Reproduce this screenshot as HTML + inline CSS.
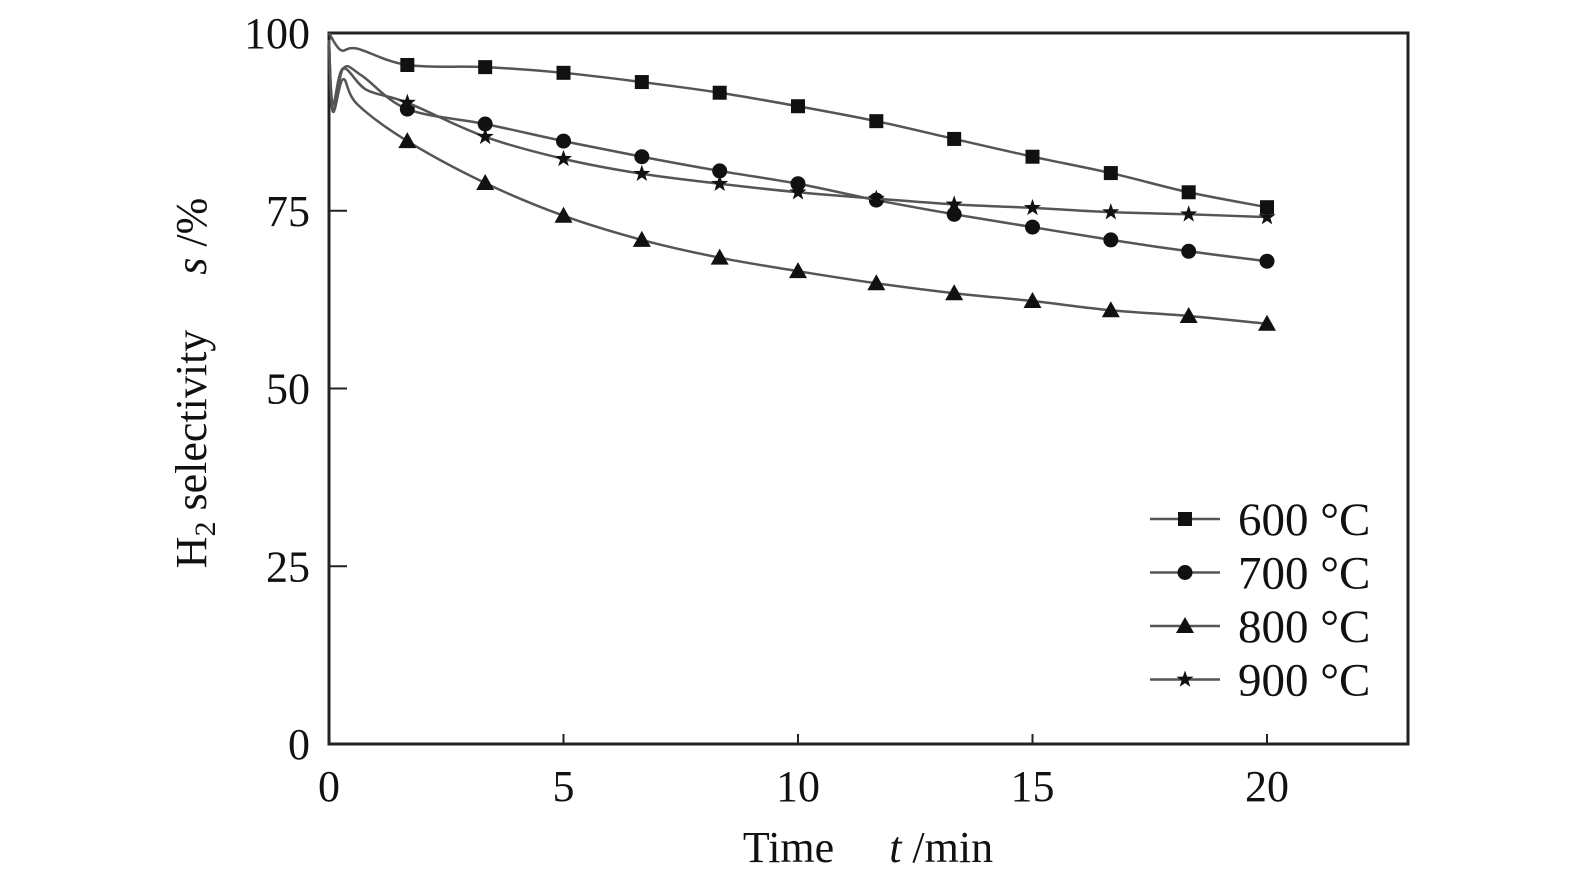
<!DOCTYPE html>
<html><head><meta charset="utf-8"><style>
html,body{margin:0;padding:0;background:#fff;}
svg text{font-family:"Liberation Serif",serif;fill:#111;white-space:pre;}
</style></head><body>
<svg id="chart" width="1575" height="888" viewBox="0 0 1575 888" xmlns="http://www.w3.org/2000/svg" xml:space="preserve">
<rect x="0" y="0" width="1575" height="888" fill="#fff"/>
<g id="axes"></g>
<g id="series"></g>
<g id="legend"></g>
<text transform="translate(206,383) rotate(-90)" text-anchor="middle" font-size="44">H<tspan font-size="30" dy="9">2</tspan><tspan dy="-9"> selectivity     </tspan><tspan font-style="italic">s</tspan> /%</text>
<text x="868" y="862" text-anchor="middle" font-size="44">Time     <tspan font-style="italic">t</tspan> /min</text>
</svg>
<script>
const xTicks=[0,5,10,15,20];
const yTicks=[0,25,50,75,100];
const seriesNames=["600 °C","700 °C","800 °C","900 °C"];
const markerTimes=[1.67,3.33,5,6.67,8.33,10,11.67,13.33,15,16.67,18.33,20];
const s600=[95.5,95.2,94.4,93.1,91.6,89.7,87.6,85.1,82.6,80.3,77.6,75.5];
const s700=[89.3,87.2,84.8,82.6,80.6,78.8,76.5,74.5,72.7,70.9,69.3,67.9];
const s800=[84.8,78.9,74.3,70.9,68.4,66.5,64.8,63.4,62.3,61.0,60.2,59.1];
const s900=[90.2,85.4,82.3,80.2,78.8,77.6,76.7,75.9,75.4,74.8,74.5,74.1];
const startT600=[0,0.25,0.6], startV600=[100,97.6,97.8];
const startT700=[0,0.08,0.3,0.7], startV700=[99,89,95,94];
const startT800=[0,0.08,0.3,0.6], startV800=[99,89,93.5,90];
const startT900=[0,0.08,0.3,0.8], startV900=[99,90,95,92];

const X0=329,X1=1408,Y0=744,Y1=33;
const xs=t=>X0+t*(1267-X0)/20;
const ys=v=>Y0-v*(Y0-Y1)/100;
const NS="http://www.w3.org/2000/svg";
function mk(tag,attrs,parent){const e=document.createElementNS(NS,tag);for(const k in attrs)e.setAttribute(k,attrs[k]);parent.appendChild(e);return e;}
const axes=document.getElementById('axes');
const frame=mk('rect',{x:X0,y:Y1,width:X1-X0,height:Y0-Y1,fill:'none',stroke:'#222','stroke-width':3},axes);


xTicks.forEach(t=>{
  const l=mk('line',{x1:xs(t),x2:xs(t),y1:Y0,y2:Y0-10,stroke:'#222','stroke-width':2},axes);
  
  
  const tx=mk('text',{x:xs(t),y:801,'text-anchor':'middle','font-size':44},axes);
  
  
  tx.textContent=t;
});
yTicks.forEach(v=>{
  const l=mk('line',{x1:X0,x2:X0+18,y1:ys(v),y2:ys(v),stroke:'#222','stroke-width':2},axes);
  
  
  const tx=mk('text',{x:310,y:ys(v)+15,'text-anchor':'end','font-size':44},axes);
  
  
  tx.textContent=v;
});
function smooth(pts){
  let d=`M${pts[0][0]},${pts[0][1]}`;
  for(let i=0;i<pts.length-1;i++){
    const p0=pts[Math.max(0,i-1)],p1=pts[i],p2=pts[i+1],p3=pts[Math.min(pts.length-1,i+2)];
    const c1=[p1[0]+(p2[0]-p0[0])/6,p1[1]+(p2[1]-p0[1])/6];
    const c2=[p2[0]-(p3[0]-p1[0])/6,p2[1]-(p3[1]-p1[1])/6];
    d+=`C${c1[0]},${c1[1]} ${c2[0]},${c2[1]} ${p2[0]},${p2[1]}`;
  }
  return d;
}
function marker(type,cx,cy,parent){
  let e;
  if(type==='square') e=mk('rect',{x:cx-7,y:cy-7,width:14,height:14,fill:'#111'},parent);
  else if(type==='circle') e=mk('circle',{cx:cx,cy:cy,r:7.5,fill:'#111'},parent);
  else if(type==='triangle') e=mk('polygon',{points:`${cx},${cy-9} ${cx+9},${cy+7} ${cx-9},${cy+7}`,fill:'#111'},parent);
  else {
    let p=[];for(let k=0;k<10;k++){const r=k%2?3.6:9,a=-Math.PI/2+k*Math.PI/5;p.push(`${cx+r*Math.cos(a)},${cy+r*Math.sin(a)}`);}
    e=mk('polygon',{points:p.join(' '),fill:'#111'},parent);
  }
  return e;
}
const sData=[[startT600,startV600,s600,'square'],[startT700,startV700,s700,'circle'],[startT800,startV800,s800,'triangle'],[startT900,startV900,s900,'star']];
const sg=document.getElementById('series');
const lg=document.getElementById('legend');
sData.forEach((sd,i)=>{
  const pts=sd[0].map((t,j)=>[xs(t),ys(sd[1][j])]).concat(markerTimes.map((t,j)=>[xs(t),ys(sd[2][j])]));
  const g=mk('g',{},sg);
  
  
  mk('path',{d:smooth(pts),fill:'none',stroke:'#555','stroke-width':2.5},g);
  markerTimes.forEach((t,j)=>{
    const m=marker(sd[3],xs(t),ys(sd[2][j]),g);
    
    
  });
  const ly=519+i*53.5;
  const le=mk('g',{},lg);
  
  
  mk('line',{x1:1150,x2:1220,y1:ly,y2:ly,stroke:'#555','stroke-width':2.5},le);
  marker(sd[3],1185,ly,le);
  const tx=mk('text',{x:1238,y:ly+16,'font-size':47},le);
  tx.textContent=seriesNames[i];
});
</script>
</body></html>
